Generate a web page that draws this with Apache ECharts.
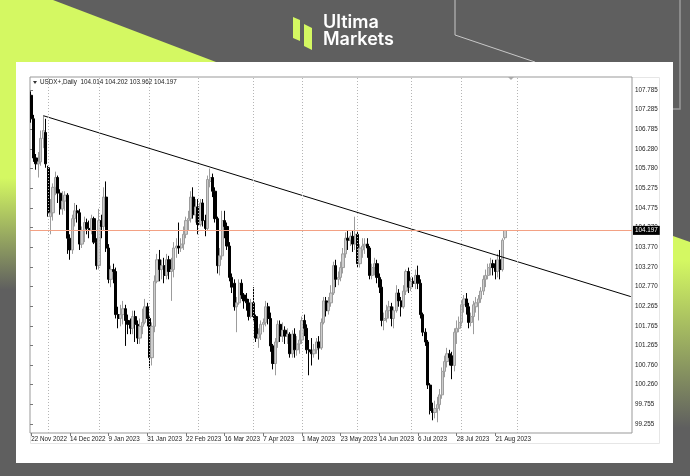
<!DOCTYPE html>
<html><head><meta charset="utf-8">
<script src="https://cdn.jsdelivr.net/npm/echarts@6/dist/echarts.min.js"></script>
<style>html,body{margin:0;padding:0;background:#5f5f5f}#c{width:690px;height:476px}</style>
</head><body><div id="c"></div>
<script>
// ---- data ----
const xTickLabels = ['22 Nov 2022','14 Dec 2022','9 Jan 2023','31 Jan 2023','22 Feb 2023','16 Mar 2023','7 Apr 2023','1 May 2023','23 May 2023','14 Jun 2023','6 Jul 2023','28 Jul 2023','21 Aug 2023'];
const yTickLabels = ['107.785','107.285','106.785','106.280','105.780','105.275','104.775','104.270','103.770','103.270','102.770','102.265','101.765','101.265','100.760','100.260','99.755','99.255'];
const separatorBars = [7, 28, 49, 69, 92, 112, 135, 157, 178, 201];
const trendline = [[5, 107.129], [248, 102.509]];
const lastPrice = 104.197;
const header = 'USDX+,Daily  104.014 104.202 103.962 104.197';
// [open, close, low, high]
const candles = [
[107.65,107.05,106.95,107.75],[107.05,106.05,105.95,107.15],[106.05,105.90,105.75,106.15],[105.90,105.95,105.55,106.20],
[105.95,106.55,105.85,106.75],[106.55,106.75,106.30,107.12],[106.70,105.90,105.80,107.05],[105.80,104.65,104.55,105.85],
[104.55,104.65,104.10,105.00],[104.65,105.30,104.45,105.40],[105.30,105.55,105.10,105.70],[105.55,105.15,104.90,105.60],
[105.15,104.75,104.60,105.25],[104.75,104.95,104.60,105.20],[104.95,105.10,104.70,105.20],[105.10,104.00,103.60,105.15],
[104.00,103.70,103.45,104.10],[103.70,104.50,103.60,104.60],[104.50,104.70,104.30,104.90],[104.70,104.65,104.40,104.85],
[104.65,103.85,103.70,104.75],[103.85,104.20,103.75,104.30],[104.20,104.40,103.90,104.55],[104.40,104.25,104.10,104.50],
[104.25,104.20,104.00,104.45],[104.20,104.50,104.10,104.60],[104.50,103.90,103.85,104.55],[103.90,103.30,103.20,104.00],
[103.30,104.45,103.20,104.75],[104.45,104.30,104.00,104.60],[104.30,105.05,104.20,105.30],[105.05,103.75,103.65,105.45],
[103.75,102.95,102.85,103.85],[102.95,103.20,102.75,103.30],[103.20,103.15,102.85,103.35],[103.15,102.05,101.95,103.25],
[102.05,101.95,101.70,102.25],[101.95,102.05,101.75,102.30],[102.05,102.20,101.80,102.40],[102.20,101.90,101.25,102.30],
[101.90,101.80,101.55,102.05],[101.80,101.70,101.55,101.95],[101.70,102.00,101.55,102.15],[102.00,101.80,101.35,102.15],
[101.80,101.45,101.30,101.90],[101.45,101.75,101.30,101.95],[101.75,101.85,101.55,102.20],[101.85,102.25,101.80,102.45],
[102.25,101.95,101.75,102.35],[101.95,100.95,100.68,102.00],[100.95,101.75,100.75,101.85],[101.75,102.90,101.60,103.05],
[102.90,103.45,102.85,103.60],[103.45,103.20,102.90,103.70],[103.20,103.30,102.95,103.45],[103.30,103.05,102.85,103.50],
[103.05,103.45,102.95,103.60],[103.45,103.15,102.95,103.55],[103.15,103.20,102.40,103.50],[103.20,103.75,103.00,103.90],
[103.75,103.80,103.50,104.00],[103.80,103.75,103.60,104.40],[103.75,103.85,103.65,104.00],[103.85,104.10,103.70,104.30],
[104.10,104.45,104.00,104.55],[104.45,104.50,104.20,104.70],[104.50,105.05,104.40,105.20],[105.05,104.60,104.50,105.30],
[104.60,104.80,104.40,105.00],[104.80,104.35,104.10,105.00],[104.35,104.90,104.30,105.00],[104.90,104.45,104.30,105.00],
[104.45,104.25,104.05,104.60],[104.25,105.50,104.20,105.60],[105.45,105.55,105.30,105.78],[105.55,105.20,105.05,105.65],
[105.20,104.50,104.40,105.30],[104.50,103.30,103.10,104.55],[103.30,103.55,103.05,103.75],[103.55,104.45,103.45,104.70],
[104.45,104.30,104.00,104.70],[104.30,103.80,103.70,104.40],[103.80,103.00,102.90,103.90],[103.00,102.75,102.60,103.10],
[102.85,102.25,102.15,102.95],[102.25,102.35,101.60,102.50],[102.35,102.85,102.30,102.95],[102.85,102.55,102.45,102.95],
[102.55,102.40,102.20,102.60],[102.45,102.35,102.15,102.60],[102.35,102.00,101.90,102.45],[102.00,102.35,101.95,102.45],
[102.35,102.00,101.90,102.75],[102.00,101.45,101.35,102.05],[101.45,101.55,101.20,101.70],[101.55,101.80,101.40,101.90],
[101.80,101.85,101.60,101.95],[101.85,102.25,101.75,102.40],[102.25,101.95,101.80,102.35],[101.95,101.25,101.10,102.10],
[101.25,100.80,100.65,101.30],[100.80,101.35,100.50,101.45],[101.35,101.80,101.20,101.90],[101.80,101.50,101.35,101.90],
[101.50,101.65,101.35,101.85],[101.65,101.50,101.30,101.75],[101.50,101.55,101.30,101.70],[101.55,101.05,100.95,101.60],
[101.05,101.55,100.95,101.65],[101.55,101.15,100.95,101.70],[101.15,101.30,101.00,101.50],[101.30,101.40,101.05,101.65],
[101.40,101.90,101.30,102.00],[101.90,101.70,101.50,102.05],[101.70,101.15,101.05,101.80],[101.15,101.10,100.50,101.40],
[101.10,101.05,100.75,101.45],[101.05,101.15,100.95,101.30],[101.15,101.35,101.05,101.45],[101.35,101.20,100.90,101.50],
[101.20,101.85,101.15,101.95],[101.85,102.40,101.80,102.50],[102.40,102.15,102.00,102.50],[102.15,102.35,102.05,102.50],
[102.35,102.60,102.25,102.80],[102.60,103.30,102.55,103.40],[103.30,102.95,102.75,103.45],[102.95,103.00,102.80,103.15],
[103.00,103.25,102.90,103.40],[103.25,103.60,103.10,103.75],[103.60,104.00,103.50,104.15],[104.00,103.95,103.70,104.20],
[103.95,104.05,103.80,104.15],[104.05,103.85,103.65,104.20],[103.85,104.10,103.70,104.55],[104.10,103.35,103.25,104.20],
[103.35,103.75,103.25,103.85],[103.70,103.80,103.50,104.00],[103.80,103.85,103.60,104.00],[103.85,103.75,103.50,104.00],
[103.75,103.05,102.95,103.80],[103.05,103.25,102.95,103.35],[103.25,103.35,103.05,103.50],[103.35,103.00,102.85,103.45],
[103.00,102.75,102.60,103.10],[102.75,101.90,101.75,102.95],[101.90,101.95,101.65,102.10],[101.95,102.15,101.85,102.30],
[102.15,102.25,101.95,102.40],[102.25,101.95,101.75,102.35],[101.95,102.15,101.70,102.25],[102.15,102.60,102.10,102.80],
[102.60,102.40,102.25,102.70],[102.40,102.25,102.00,102.50],[102.25,102.65,102.20,102.80],[102.65,103.15,102.55,103.20],
[103.15,102.75,102.60,103.25],[102.75,102.90,102.65,103.00],[102.90,102.85,102.75,103.00],[102.85,103.05,102.70,103.20],
[103.05,102.85,102.70,103.30],[102.85,102.05,101.95,102.95],[102.05,101.60,101.50,102.10],[101.60,101.35,101.25,101.70],
[101.35,100.25,100.15,101.40],[100.25,99.60,99.50,100.30],[99.60,99.55,99.35,99.80],[99.55,99.65,99.40,99.85],
[99.65,99.75,99.30,99.95],[99.75,100.00,99.60,100.15],[100.00,100.60,99.90,100.70],[100.60,100.85,100.45,101.00],
[100.85,101.05,100.70,101.20],[101.05,100.95,100.75,101.15],[101.00,100.75,100.40,101.10],[100.75,101.60,100.60,101.70],
[101.60,101.70,101.30,101.90],[101.70,101.85,101.60,102.00],[101.85,102.30,101.75,102.40],[102.30,102.45,102.10,102.55],
[102.45,102.25,102.05,102.60],[102.25,101.85,101.70,102.35],[101.85,102.00,101.75,102.10],[102.00,102.30,101.55,102.40],
[102.25,102.35,102.10,102.50],[102.35,102.45,101.90,102.55],[102.45,102.65,102.35,102.75],[102.65,102.95,102.55,103.05],
[102.95,103.05,102.75,103.20],[103.05,103.25,102.95,103.35],[103.25,103.35,103.05,103.50],[103.35,103.25,103.05,103.45],
[103.25,103.15,102.95,103.45],[103.15,103.45,103.00,103.60],[103.45,103.20,102.95,103.70],[103.20,103.95,103.15,104.00],
[104.014,104.197,103.962,104.202]
];
const SLOTS = 249;
const categories = Array.from({length: SLOTS}, (_, i) => String(i));

// ---- chart ----
const FONT = '"Liberation Sans", Arial, sans-serif';
const LIME = '#d4f862', GRAY = '#5f5f5f';
const chart = echarts.init(document.getElementById('c'));
const showTick = (i) => i % 16 === 0 && i / 16 < xTickLabels.length;

const sepLines = separatorBars.map(b => ({xAxis: String(b), lineStyle: {color: '#b5b5b5', type: [1, 2], width: 1}, label: {show: false}}));

chart.setOption({
  animation: false,
  backgroundColor: GRAY,
  graphic: [
    {type: 'polygon', z: -9, shape: {points: [[0,0],[53,0],[216,62],[0,62]]}, style: {fill: LIME}},
    {type: 'rect', z: -9, shape: {x: 0, y: 62, width: 16, height: 414},
      style: {fill: new echarts.graphic.LinearGradient(0, 0, 0, 1, [{offset: 0, color: LIME}, {offset: 0.28, color: LIME}, {offset: 0.55, color: GRAY}, {offset: 1, color: GRAY}])}},
    {type: 'polygon', z: -9, shape: {points: [[673,236],[690,242],[690,476],[673,476]]},
      style: {fill: new echarts.graphic.LinearGradient(0, 0, 0, 1, [{offset: 0, color: LIME}, {offset: 0.1, color: LIME}, {offset: 0.8, color: GRAY}, {offset: 1, color: GRAY}])}},
    {type: 'polyline', z: -9, shape: {points: [[455,0],[455,35],[535,62]]}, style: {stroke: '#c8c8c8', lineWidth: 1, fill: null}},
    {type: 'polyline', z: -9, shape: {points: [[680,0],[680,109],[673,109]]}, style: {stroke: '#9a9a9a', lineWidth: 1.5, fill: null}},
    {type: 'rect', z: -8, shape: {x: 16, y: 62, width: 657, height: 401}, style: {fill: '#ffffff'}},
    {type: 'rect', z: -7, shape: {x: 30.5, y: 77.5, width: 629, height: 366}, style: {fill: null, stroke: '#e6e6e6', lineWidth: 1}},
    // logo
    {type: 'polygon', z: 5, shape: {points: [[293,17],[300,20],[300,41],[293,38]]}, style: {fill: LIME}},
    {type: 'polygon', z: 5, shape: {points: [[304,24],[312,28],[312,50],[304,46]]}, style: {fill: LIME}},
    {type: 'text', z: 5, x: 323, y: 14, style: {text: 'Ultima', fill: '#ffffff', font: '600 18px Inter, "Noto Sans", sans-serif'}},
    {type: 'text', z: 5, x: 323, y: 31, style: {text: 'Markets', fill: '#ffffff', font: '600 18px Inter, "Noto Sans", sans-serif'}},
    // chart header
    {type: 'polygon', z: 50, shape: {points: [[33,81],[37,81],[35,84]]}, style: {fill: '#333'}},
    {type: 'text', z: 50, x: 40, y: 79, style: {text: header, fill: '#222', font: '6.3px ' + FONT}},
    {type: 'polygon', z: 50, shape: {points: [[508,77],[514,77],[511,80]]}, style: {fill: '#aaaaaa'}}
  ],
  grid: [
    {left: 30, top: 77, width: 602, height: 356, show: true, backgroundColor: '#ffffff', borderColor: '#999999', borderWidth: 1},
    {left: 30, top: 90, width: 602, height: 334, show: false}
  ],
  xAxis: [
    {type: 'category', gridIndex: 0, data: categories, boundaryGap: true,
      axisLine: {show: false},
      axisTick: {show: true, interval: (i) => showTick(i), alignWithLabel: true, length: 3, lineStyle: {color: '#777'}},
      axisLabel: {interval: (i) => showTick(i), formatter: (v, i) => showTick(Number(v)) ? xTickLabels[Number(v) / 16] : '',
        align: 'left', fontSize: 6.3, color: '#222', margin: 3, fontFamily: FONT},
      splitLine: {show: false}},
    {type: 'value', gridIndex: 1, show: false, min: 0, max: 1}
  ],
  yAxis: [
    {type: 'value', gridIndex: 0, min: 99.026, max: 108.117, show: false, scale: true},
    {type: 'value', gridIndex: 1, min: 0, max: yTickLabels.length - 1, interval: 1, position: 'right',
      axisLine: {show: false}, splitLine: {show: false},
      axisTick: {show: true, length: 3, lineStyle: {color: '#777'}},
      axisLabel: {formatter: (v) => yTickLabels[yTickLabels.length - 1 - Math.round(v)] || '', fontSize: 6.3, color: '#222', margin: 3, fontFamily: FONT}}
  ],
  series: [
    {type: 'candlestick', xAxisIndex: 0, yAxisIndex: 0, data: candles, barWidth: 2.7, silent: true,
      itemStyle: {color: '#cdcdcd', color0: '#000000', borderColor: '#9c9c9c', borderColor0: '#000000', borderWidth: 1},
      markLine: {silent: true, symbol: ['none', 'none'], animation: false,
        data: [...sepLines,
          {yAxis: lastPrice, lineStyle: {color: '#f3a184', width: 1, type: 'solid'},
            label: {show: true, position: 'end', formatter: String(lastPrice), backgroundColor: '#000', color: '#fff',
              fontSize: 6.3, fontFamily: FONT, padding: [2, 2, 1, 2], distance: 1}}]}},
    {type: 'line', xAxisIndex: 0, yAxisIndex: 0, data: trendline, symbol: 'none', silent: true,
      lineStyle: {color: '#000', width: 1}, z: 4}
  ]
});
</script></body></html>
